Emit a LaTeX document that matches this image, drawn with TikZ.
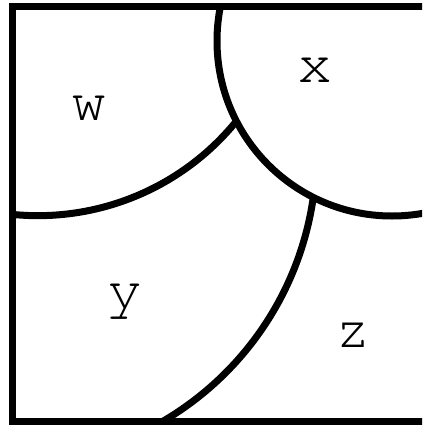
\documentclass[tikz,border=0pt]{standalone}
\usepackage[T1]{fontenc}
\renewcommand{\ttdefault}{pcr}
\tikzset{every picture/.style={line width=5.25pt}}
\tikzset{region label/.style={anchor=base, inner sep=0.75pt, font=\fontsize{44}{44}\selectfont\ttfamily}}

\begin{document}
\begin{tikzpicture}[x=0.75pt,y=0.75pt,yscale=-1,xscale=1]
\useasboundingbox (0,0) rectangle (422,425);
\clip (0,0) rectangle (422,425);

%Shape: Circle [id:region x]
\begin{scope}
\clip (12.5,6.5) rectangle (427,421);
\draw (392,41) circle [radius=175];
\end{scope}
%Curve Lines [id:w/y border]
\draw (12.5,214.4) arc [start angle=95.7, end angle=39, radius=255.7];
%Curve Lines [id:y/z border]
\draw (313.3,197.2) arc [start angle=8.1, end angle=59.6, radius=310.4];
%Shape: Rectangle [id:frame]
\draw (12.5,6.5) rectangle (427,421);

% Text Node
\draw (89,120) node [region label] (w) {w};
% Text Node
\draw (315,82) node [region label] (x) {x};
% Text Node
\draw (125.5,308) node [region label] (y) {y};
% Text Node
\draw (353,347) node [region label] (z) {z};

\end{tikzpicture}
\end{document}
